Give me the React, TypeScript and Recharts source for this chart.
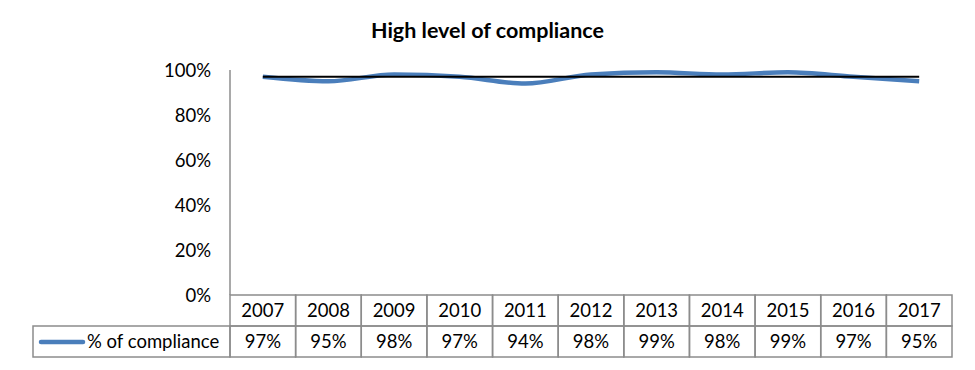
import { LineChart, Line, XAxis, YAxis } from "recharts";

const years = ["2007", "2008", "2009", "2010", "2011", "2012", "2013", "2014", "2015", "2016", "2017"];
const compliance = [97, 95, 98, 97, 94, 98, 99, 98, 99, 97, 95];
const average = [97, 97, 97, 97, 97, 97, 97, 97, 97, 97, 97];
const yTicks = [0, 20, 40, 60, 80, 100];

const data = years.map((year, i) => ({
  year,
  compliance: compliance[i],
  average: average[i],
}));

const FONT = "Lato, 'Open Sans', sans-serif";
const GRID = "#8c8c8c";
const BLUE = "#4a7ebb";
const PLOT_LEFT = 230;
const PLOT_RIGHT = 952;
const COL_W = (PLOT_RIGHT - PLOT_LEFT) / years.length;
const ROW_H = 31;
const FS = 18.5;

function TableTick(props: any) {
  const { x, y, payload, index } = props;
  const left = x - COL_W / 2;
  return (
    <g>
      <rect x={left} y={y} width={COL_W} height={ROW_H} fill="none" stroke={GRID} strokeWidth={1.5} />
      <text x={x} y={y + 22} textAnchor="middle" fontSize={FS} fill="#000" fontFamily={FONT}>
        {payload.value}
      </text>
      <rect x={left} y={y + ROW_H} width={COL_W} height={ROW_H} fill="none" stroke={GRID} strokeWidth={1.5} />
      <text x={x} y={y + ROW_H + 22} textAnchor="middle" fontSize={FS} fill="#000" fontFamily={FONT}>
        {compliance[index]}%
      </text>
      {index === 0 && (
        <g>
          <rect x={33} y={y + ROW_H} width={left - 33} height={ROW_H} fill="none" stroke={GRID} strokeWidth={1.5} />
          <line x1={41} x2={83} y1={y + ROW_H + 16} y2={y + ROW_H + 16} stroke={BLUE} strokeWidth={4.5} strokeLinecap="round" />
          <text x={87} y={y + ROW_H + 22} fontSize={FS} fill="#000" fontFamily={FONT}>
            % of compliance
          </text>
        </g>
      )}
    </g>
  );
}

export default function App() {
  return (
    <div style={{ position: "absolute", left: 0, top: 0, width: 975, height: 370, background: "#fff" }}>
      <div
        style={{
          position: "absolute",
          top: 17,
          left: 0,
          width: 975,
          textAlign: "center",
          fontFamily: FONT,
          fontWeight: 700,
          fontSize: 21.5,
          lineHeight: "26px",
          color: "#000",
        }}
      >
        High level of compliance
      </div>
      <LineChart
        width={975}
        height={370}
        data={data}
        margin={{ top: 70, right: 975 - PLOT_RIGHT, left: PLOT_LEFT - 60, bottom: 12 }}
      >
        <XAxis
          dataKey="year"
          height={63}
          axisLine={false}
          tickLine={false}
          tickSize={0}
          tickMargin={0}
          interval={0}
          padding={{ left: COL_W / 2, right: COL_W / 2 }}
          tick={<TableTick />}
        />
        <YAxis
          width={60}
          domain={[0, 100]}
          ticks={yTicks}
          tickFormatter={(v: number) => `${v}%`}
          axisLine={{ stroke: GRID, strokeWidth: 1.5 }}
          tickLine={false}
          tickSize={0}
          tickMargin={19}
          tick={{ fontSize: FS, fill: "#000", fontFamily: FONT }}
        />
        <Line
          type="monotone"
          dataKey="compliance"
          stroke={BLUE}
          strokeWidth={4.5}
          dot={false}
          isAnimationActive={false}
        />
        <Line
          type="linear"
          dataKey="average"
          stroke="#000"
          strokeWidth={2}
          dot={false}
          isAnimationActive={false}
        />
      </LineChart>
    </div>
  );
}
